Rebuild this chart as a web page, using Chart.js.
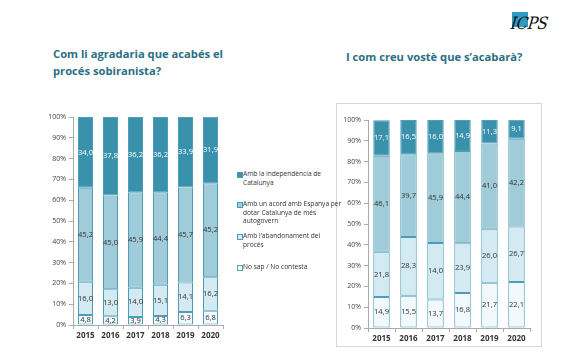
<!DOCTYPE html>
<html><head><meta charset="utf-8">
<script src="https://cdn.jsdelivr.net/npm/chart.js@4"></script>
<style>
body{margin:0;width:580px;height:360px;background:#fff;position:relative;overflow:hidden;font-family:"Open Sans",sans-serif;}
.t{position:absolute;color:#2b6f86;font-weight:bold;font-size:11.2px;line-height:17px;white-space:nowrap;}
#c1{position:absolute;left:20px;top:105px;}
#c2{position:absolute;left:340px;top:108px;}
#frame{position:absolute;left:336px;top:103px;width:204px;height:242px;border:1px solid #d6d6d6;}
.lg{position:absolute;left:237px;font-size:6.6px;line-height:8.6px;color:#333;white-space:nowrap;}
.lg i{position:absolute;left:0;top:2px;width:4px;height:4px;border:1px solid #4d9db6;}
.lg span{display:block;margin-left:6px;}
#logo{position:absolute;left:512px;top:12px;width:16px;height:15px;background:#2e9bc4;}
#logoT{position:absolute;left:509px;top:13px;font-family:"DejaVu Serif",serif;font-style:italic;font-size:17px;letter-spacing:-0.5px;color:#111;transform:scaleX(0.9) skewX(-8deg);}
</style></head><body>
<div class="t" style="left:53px;top:45px;">Com li agradaria que acabés el<br>procés sobiranista?</div>
<div class="t" style="left:346px;top:48px;">I com creu vostè que s’acabarà?</div>
<div id="logo"></div><div id="logoT">ICPS</div>
<div id="frame"></div>
<canvas id="c1" width="210" height="245"></canvas>
<canvas id="c2" width="195" height="245"></canvas>
<div class="lg" style="top:170px;"><i style="background:#3a91ab"></i><span>Amb la independència de<br>Catalunya</span></div>
<div class="lg" style="top:200px;"><i style="background:#a0cbd9"></i><span>Amb un acord amb Espanya per<br>dotar Catalunya de més<br>autogovern</span></div>
<div class="lg" style="top:232px;"><i style="background:#d4eaf2"></i><span>Amb l’abandonament del<br>procés</span></div>
<div class="lg" style="top:263px;"><i style="background:#f2f9fc"></i><span>No sap / No contesta</span></div>
<script>
const years = ['2015','2016','2017','2018','2019','2020'];
const yTicks = [0,10,20,30,40,50,60,70,80,90,100];
const seriesNames = ['No sap / No contesta','Amb l’abandonament del procés','Amb un acord amb Espanya per dotar Catalunya de més autogovern','Amb la independència de Catalunya'];
// Left chart: Com li agradaria...
const L_nosap = [4.8,4.2,3.9,4.3,6.3,6.8];
const L_aband = [16.0,13.0,14.0,15.1,14.1,16.2];
const L_acord = [45.2,45.0,45.9,44.4,45.7,45.2];
const L_indep = [34.0,37.8,36.2,36.2,33.9,31.9];
// Right chart: I com creu... (bar heights as drawn)
const R_nosap = [14.9,15.5,13.7,16.8,21.7,22.1];
const R_aband = [21.8,28.3,27.2,23.9,26.0,26.7];
const R_acord = [46.1,39.7,43.1,44.4,41.0,42.2];
const R_indep = [17.1,16.5,16.0,14.9,11.3,9.1];
// Right chart printed labels (as printed in the source)
const R_lab_nosap = [14.9,15.5,13.7,16.8,21.7,22.1];
const R_lab_aband = [21.8,28.3,14.0,23.9,26.0,26.7];
const R_lab_acord = [46.1,39.7,45.9,44.4,41.0,42.2];
const R_lab_indep = [17.1,16.5,16.0,14.9,11.3,9.1];

const fills = ['#f2f9fc','#d4eaf2','#a0cbd9','#3a91ab'];
const labColors = ['#333','#333','#333','#fff'];
const fmt = v => v.toFixed(1).replace('.',',');

const labelPlugin = {
  id:'lbl',
  afterDatasetsDraw(chart){
    const ctx = chart.ctx;
    const labs = chart.options.plugins.lbl.labels;
    ctx.save();
    ctx.font = '7.6px "Open Sans", sans-serif';
    ctx.textAlign='center'; ctx.textBaseline='middle';
    chart.data.datasets.forEach((ds,di)=>{
      const meta = chart.getDatasetMeta(di);
      meta.data.forEach((el,i)=>{
        const p = el.getProps(['x','y','base'],true);
        ctx.fillStyle = labColors[di];
        ctx.fillText(fmt(labs[di][i]), p.x, (p.y+p.base)/2);
      });
    });
    ctx.restore();
  }
};

function make(id, data, labels, yW, padR, barPct){
  new Chart(document.getElementById(id),{
    type:'bar',
    data:{labels:years, datasets:data.map((d,i)=>({label:seriesNames[i],data:d,backgroundColor:fills[i],borderColor:'#4d9db6',borderWidth:1,borderSkipped:false,barPercentage:barPct,categoryPercentage:1}))},
    options:{
      responsive:false, animation:false,
      layout:{padding:{top:12,right:padR,left:0,bottom:0}},
      plugins:{legend:{display:false},tooltip:{enabled:false},lbl:{labels}},
      scales:{
        x:{stacked:true, afterFit:s=>{s.height=25;},
           grid:{drawOnChartArea:false,drawTicks:true,tickLength:4,color:'#aaa'},
           border:{color:'#aaa'},
           ticks:{color:'#333',font:{size:8,weight:'bold',family:'"Open Sans", sans-serif'},padding:2}},
        y:{stacked:true,min:0,max:100, afterFit:s=>{s.width=yW;},
           afterBuildTicks:s=>{s.ticks=yTicks.map(v=>({value:v}));},
           grid:{drawOnChartArea:false,tickLength:4,color:'#aaa'},
           border:{color:'#aaa'},
           ticks:{color:'#444',font:{size:7,family:'"Open Sans", sans-serif'},padding:3,callback:v=>v+'%'}}
      }
    },
    plugins:[labelPlugin]
  });
}
make('c1',[L_nosap,L_aband,L_acord,L_indep],[L_nosap,L_aband,L_acord,L_indep],53,7,0.6);
make('c2',[R_nosap,R_aband,R_acord,R_indep],[R_lab_nosap,R_lab_aband,R_lab_acord,R_lab_indep],28,5,0.61);
</script>
</body></html>
